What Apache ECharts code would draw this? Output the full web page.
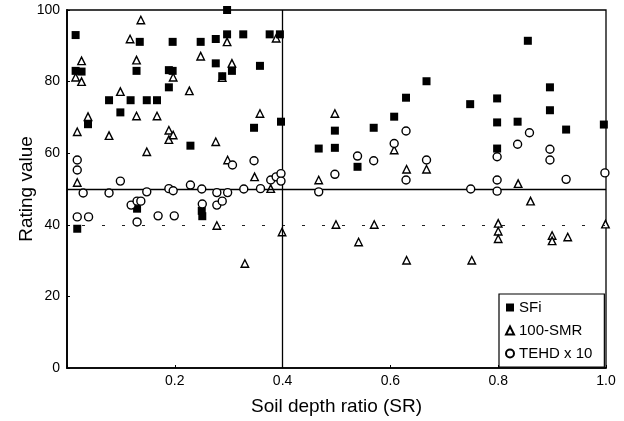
<!DOCTYPE html>
<html>
<head>
<meta charset="utf-8">
<script src="https://cdn.jsdelivr.net/npm/echarts@6/dist/echarts.min.js"></script>
<style>
html,body{margin:0;padding:0;background:#fff;}
#chart{width:624px;height:421px;}
</style>
</head>
<body>
<div id="chart"></div>
<script>
// SFi (filled squares): [soil depth ratio, rating value]
const sfi = [
  [0.016,93.0],[0.016,83.0],[0.027,82.8],[0.039,68.1],[0.078,74.8],[0.099,71.4],
  [0.118,74.8],[0.135,91.1],[0.129,83.0],[0.148,74.8],[0.167,74.8],[0.189,78.4],
  [0.189,83.2],[0.196,83.0],[0.196,91.1],[0.229,62.1],[0.248,91.1],[0.276,91.9],
  [0.276,85.1],[0.288,81.5],[0.297,100],[0.297,93.2],[0.306,83.0],[0.327,93.2],
  [0.358,84.4],[0.376,93.2],[0.395,93.2],[0.347,67.1],[0.397,68.8],[0.130,44.5],
  [0.250,43.9],[0.251,42.4],[0.019,38.9],[0.467,61.3],[0.497,61.5],[0.497,66.3],
  [0.539,56.2],[0.569,67.1],[0.607,70.2],[0.629,75.5],[0.667,80.1],[0.748,73.7],
  [0.798,75.3],[0.798,68.6],[0.798,61.3],[0.836,68.8],[0.855,91.4],[0.896,78.4],
  [0.896,72.0],[0.926,66.6],[0.996,68.0]
];
// 100-SMR (open triangles)
const smr = [
  [0.137,97.2],[0.117,91.9],[0.016,81.2],[0.027,85.8],[0.027,80.0],[0.019,66.0],
  [0.039,70.2],[0.019,51.8],[0.078,64.9],[0.099,77.2],[0.129,86.0],[0.129,70.4],
  [0.148,60.4],[0.167,70.4],[0.189,66.4],[0.189,63.8],[0.197,65.1],[0.197,81.2],
  [0.227,77.4],[0.248,87.1],[0.276,63.2],[0.278,39.8],[0.297,91.1],[0.298,58.1],
  [0.306,85.1],[0.288,81.1],[0.330,29.2],[0.348,53.4],[0.358,71.1],[0.378,50.1],
  [0.388,92.1],[0.399,38.0],[0.467,52.5],[0.497,71.1],[0.499,40.1],[0.541,35.2],
  [0.570,40.1],[0.607,60.9],[0.630,55.5],[0.630,30.1],[0.667,55.5],[0.751,30.1],
  [0.800,40.4],[0.800,38.2],[0.800,36.1],[0.837,51.5],[0.860,46.6],[0.900,37.0],
  [0.900,35.5],[0.929,36.6],[0.999,40.2]
];
// TEHD x 10 (open circles)
const tehd = [
  [0.019,58.1],[0.019,55.3],[0.030,48.9],[0.019,42.2],[0.040,42.2],[0.078,48.9],
  [0.099,52.2],[0.119,45.5],[0.130,46.6],[0.137,46.6],[0.130,40.8],[0.148,49.2],
  [0.169,42.5],[0.189,50.1],[0.197,49.5],[0.199,42.5],[0.229,51.1],[0.250,50.0],
  [0.251,45.8],[0.278,49.0],[0.278,45.5],[0.288,46.6],[0.298,49.0],[0.307,56.7],
  [0.328,50.0],[0.347,57.9],[0.359,50.1],[0.378,52.5],[0.388,53.4],[0.397,54.3],
  [0.397,52.2],[0.467,49.2],[0.497,54.1],[0.539,59.2],[0.569,57.9],[0.607,62.7],
  [0.629,66.2],[0.629,52.5],[0.667,58.1],[0.749,50.0],[0.798,59.0],[0.798,52.5],
  [0.798,49.4],[0.836,62.5],[0.858,65.7],[0.896,61.1],[0.896,58.1],[0.926,52.7],
  [0.998,54.5]
];
// reference lines
const refSolidY = 50;
const refDashedY = 40;
const refX = 0.4;
const xTicks = [0.2, 0.4, 0.6, 0.8, 1.0];
const yTicks = [0, 20, 40, 60, 80, 100];

const FONT = 'Liberation Sans, Arial, sans-serif';
const chart = echarts.init(document.getElementById('chart'), null, {renderer:'canvas'});
chart.setOption({
  animation: false,
  backgroundColor: '#fff',
  textStyle: {fontFamily: FONT, color: '#000'},
  grid: {left: 67, right: 18, top: 10, bottom: 53, show: true, borderColor: '#000', borderWidth: 1.3, backgroundColor: 'transparent'},
  xAxis: {
    type: 'value', min: 0, max: 1, interval: 0.2,
    name: 'Soil depth ratio (SR)', nameLocation: 'middle', nameGap: 29,
    nameMoveOverlap: false,
    nameTextStyle: {fontSize: 19, color: '#000', fontFamily: FONT},
    axisLine: {show: true, lineStyle: {color: '#000', width: 1.5}},
    axisTick: {show: true, inside: true, length: 3, lineStyle: {color: '#000'}},
    splitLine: {show: false},
    axisLabel: {fontSize: 14, color: '#000', margin: 6, fontFamily: FONT,
      formatter: v => xTicks.some(t => Math.abs(t - v) < 1e-6) ? v.toFixed(1) : ''}
  },
  yAxis: {
    type: 'value', min: 0, max: 100, interval: 20,
    name: 'Rating value', nameLocation: 'middle', nameGap: 31, nameRotate: 90,
    nameMoveOverlap: false,
    nameTextStyle: {fontSize: 19, color: '#000', fontFamily: FONT},
    axisLine: {show: true, lineStyle: {color: '#000', width: 1.8}},
    axisTick: {show: true, inside: true, length: 3, lineStyle: {color: '#000'}},
    splitLine: {show: false},
    axisLabel: {fontSize: 14, color: '#000', margin: 7, fontFamily: FONT,
      formatter: v => yTicks.includes(v) ? String(v) : ''}
  },
  legend: {
    orient: 'vertical', left: 499, top: 294,
    data: ['SFi', '100-SMR', 'TEHD x 10'],
    padding: [6, 12, 6, 6], itemGap: 8, itemWidth: 8, itemHeight: 8,
    borderColor: '#000', borderWidth: 1.2, backgroundColor: '#fff',
    textStyle: {fontSize: 15, color: '#000', fontFamily: FONT}
  },
  series: [
    {
      name: 'lines', type: 'scatter', data: [], z: 1, silent: true,
      markLine: {
        silent: true, symbol: 'none', animation: false, label: {show: false},
        data: [
          {yAxis: refSolidY, lineStyle: {color: '#000', width: 1.4, type: 'solid'}},
          {yAxis: refDashedY, lineStyle: {color: '#222', width: 1, type: [3, 17], dashOffset: 5}},
          {xAxis: refX, lineStyle: {color: '#000', width: 1.3, type: 'solid'}}
        ]
      }
    },
    {
      name: '100-SMR', type: 'scatter', data: smr, z: 3,
      symbol: 'triangle', symbolSize: [7.5, 7.5],
      itemStyle: {color: '#fff', borderColor: '#000', borderWidth: 1.4, opacity: 1}
    },
    {
      name: 'SFi', type: 'scatter', data: sfi, z: 4,
      symbol: 'rect', symbolSize: 8,
      itemStyle: {color: '#000', opacity: 1}
    },
    {
      name: 'TEHD x 10', type: 'scatter', data: tehd, z: 5,
      symbol: 'circle', symbolSize: 8,
      itemStyle: {color: '#fff', borderColor: '#000', borderWidth: 1.4, opacity: 1}
    }
  ]
});
</script>
</body>
</html>
